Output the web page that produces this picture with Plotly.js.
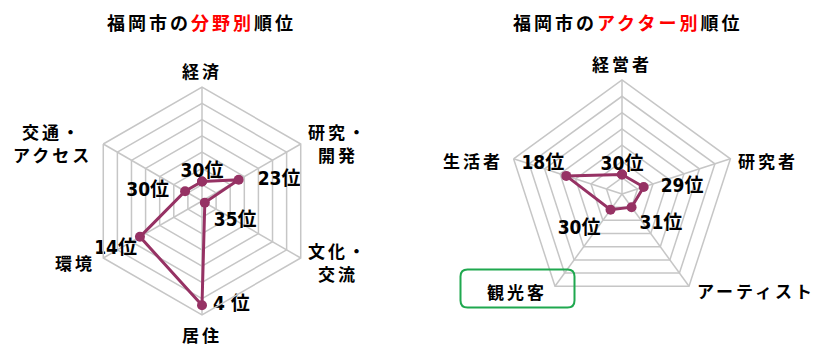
<!DOCTYPE html>
<html>
<head>
<meta charset="utf-8">
<script src="https://cdn.plot.ly/plotly-3.0.1.min.js"></script>
<style>
  body { margin: 0; }
  #graphDiv { width: 819px; height: 346px; }
  .annotation-text { letter-spacing: 3px; }
</style>
</head>
<body>
<div id="graphDiv"></div>
<script>
// Rank charts for Fukuoka (smaller rank = further out)

// left chart: rank by field
var fieldCats = ['経済', '研究・開発', '文化・交流', '居住', '環境', '交通・アクセス'];
var fieldLabels = ['経済', '研究・<br>開発', '文化・<br>交流', '居住', '環境', '交通・<br>アクセス'];
var fieldRanks = [30, 23, 35, 4, 14, 30];

// right chart: rank by actor
var actorCats = ['経営者', '研究者', 'アーティスト', '観光客', '生活者'];
var actorRanks = [30, 29, 31, 30, 18];

// radial rings (center = 36th, outer = 1st)
var rankTicks = [36, 31, 26, 21, 16, 11, 6, 1];

// where the "N位" labels sit relative to their point, and how far (px)
var fieldTextPos = ['top center', 'middle right', 'bottom right', 'middle right', 'bottom left', 'middle left'];
var fieldTextGap = [0, 19, 9, 11, 3, 16];
var actorTextPos = ['top center', 'middle right', 'bottom right', 'bottom left', 'top left'];
var actorTextGap = [0, 17, 8, 10, 2];

// label positions in pixels (center of text)
var fieldLabelPos = [[202, 70], [338, 143], [338, 262], [202, 334], [75, 262], [52, 143]];
var actorLabelPos = [[622, 63], [768, 160], [756, 290], [517, 291], [473, 160]];
var lineGap = 23;

var W = 819, H = 346;
var lineColor = '#963264';
var gridColor = '#c6c6c6';
var jpFont = 'Noto Sans CJK JP, sans-serif';
var numFont = 'Liberation Sans Narrow, DejaVu Sans Condensed, Noto Sans CJK JP, sans-serif';

// polygon line, closed by repeating the first point
const makeLine = (cats, ranks, subplot) => {
    return {
        type: 'scatterpolar',
        subplot: subplot,
        r: ranks.concat([ranks[0]]),
        theta: cats.concat([cats[0]]),
        mode: 'lines+markers',
        line: { color: lineColor, width: 3 },
        marker: { color: lineColor, size: 10 },
        hoverinfo: 'skip',
        showlegend: false
    };
};

// rank labels; an invisible marker sets the text distance from the point
const makeText = (cats, ranks, pos, gap, subplot) => {
    return {
        type: 'scatterpolar',
        subplot: subplot,
        r: ranks,
        theta: cats,
        text: ranks.map((v) => (v < 10 ? v + ' ' : v) + '位'),
        mode: 'markers+text',
        textposition: pos,
        textfont: { family: numFont, size: 19, color: '#000', weight: 'bold' },
        marker: { size: gap.map((g) => g > 1 ? (g - 1) * 1.6 : 0), opacity: 0 },
        cliponaxis: false,
        hoverinfo: 'skip',
        showlegend: false
    };
};

const makePolar = (cats, xdom, ydom) => {
    return {
        domain: { x: xdom, y: ydom },
        gridshape: 'linear',
        bgcolor: 'rgba(0,0,0,0)',
        radialaxis: {
            range: [36, 1],
            tickvals: rankTicks,
            showticklabels: false,
            ticks: '',
            showline: false,
            gridcolor: gridColor,
            gridwidth: 1.5
        },
        angularaxis: {
            type: 'category',
            categoryarray: cats,
            direction: 'clockwise',
            rotation: 90,
            showticklabels: false,
            ticks: '',
            linecolor: gridColor,
            linewidth: 1.5,
            gridcolor: gridColor,
            gridwidth: 1.5
        }
    };
};

var data = [
    makeLine(fieldCats, fieldRanks, 'polar'),
    makeText(fieldCats, fieldRanks, fieldTextPos, fieldTextGap, 'polar'),
    makeLine(actorCats, actorRanks, 'polar2'),
    makeText(actorCats, actorRanks, actorTextPos, actorTextGap, 'polar2')
];

var annotations = [];
const addText = (txt, x, y, size) => {
    annotations.push({
        text: txt,
        xref: 'paper', yref: 'paper',
        x: x / W, y: 1 - y / H,
        xanchor: 'center', yanchor: 'middle',
        showarrow: false,
        font: { family: jpFont, size: size, color: '#000', weight: 'bold' }
    });
};
// multi-line labels: one annotation per line
const addLabel = (txt, p, size) => {
    var lines = txt.split('<br>');
    var y0 = p[1] - (lines.length - 1) * lineGap / 2;
    lines.forEach((s, k) => addText(s, p[0], y0 + k * lineGap, size));
};

fieldLabels.forEach((t, i) => addLabel(t, fieldLabelPos[i], 17));
actorCats.forEach((t, i) => addLabel(t, actorLabelPos[i], 17));

// titles
addLabel('福岡市の<span style="color:#ff0000">分野別</span>順位', [201, 22], 18);
addLabel('福岡市の<span style="color:#ff0000">アクター別</span>順位', [627, 22], 18);

// rounded green box around 観光客
var bw = 57, bh = 19, rr = 7;
var boxPath = 'M ' + (-bw + rr) + ' ' + (-bh) + ' L ' + (bw - rr) + ' ' + (-bh) +
    ' Q ' + bw + ' ' + (-bh) + ' ' + bw + ' ' + (-bh + rr) +
    ' L ' + bw + ' ' + (bh - rr) + ' Q ' + bw + ' ' + bh + ' ' + (bw - rr) + ' ' + bh +
    ' L ' + (-bw + rr) + ' ' + bh + ' Q ' + (-bw) + ' ' + bh + ' ' + (-bw) + ' ' + (bh - rr) +
    ' L ' + (-bw) + ' ' + (-bh + rr) + ' Q ' + (-bw) + ' ' + (-bh) + ' ' + (-bw + rr) + ' ' + (-bh) + ' Z';

var layout = {
    width: W,
    height: H,
    margin: { l: 0, r: 0, t: 0, b: 0 },
    paper_bgcolor: '#fff',
    showlegend: false,
    polar: makePolar(fieldCats, [88 / W, 316 / W], [(H - 315) / H, (H - 87) / H]),
    polar2: makePolar(actorCats, [508 / W, 736 / W], [(H - 308) / H, (H - 80) / H]),
    annotations: annotations,
    shapes: [{
        type: 'path',
        xref: 'paper', yref: 'paper',
        xsizemode: 'pixel', ysizemode: 'pixel',
        xanchor: 517.5 / W, yanchor: 1 - 288.5 / H,
        path: boxPath,
        line: { color: '#1fa84f', width: 2 },
        fillcolor: 'rgba(0,0,0,0)'
    }]
};

graphDiv = document.getElementById('graphDiv');
Plotly.newPlot(graphDiv, data, layout, { staticPlot: true });
</script>
</body>
</html>
